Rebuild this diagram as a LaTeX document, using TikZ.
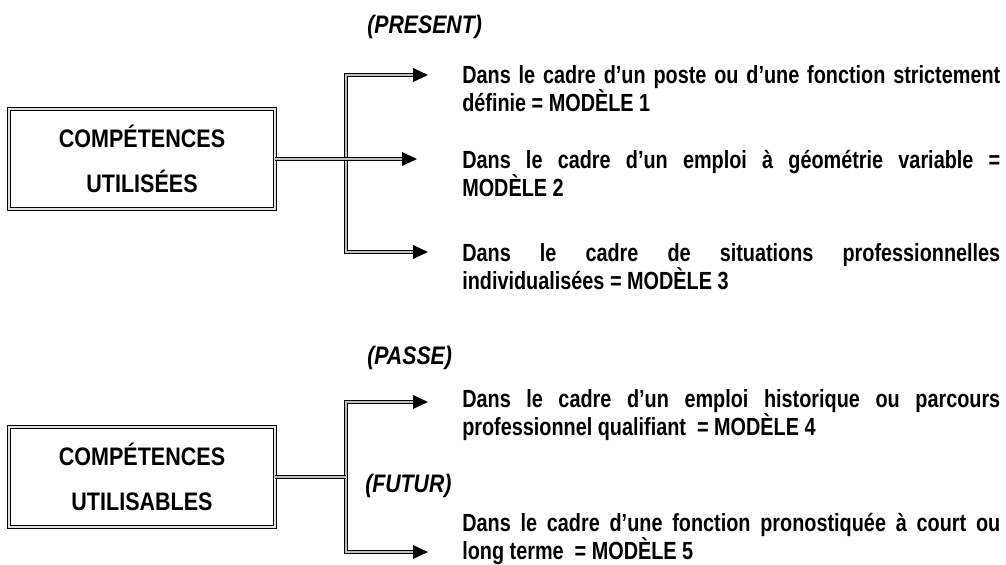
\documentclass[tikz,border=0pt]{standalone}
\usepackage{fontspec}
\setmainfont{Liberation Sans}[FakeStretch=0.8]
\newfontfamily\boxfont{Liberation Sans}[FakeStretch=0.85]
\newfontfamily\tensefont{Liberation Sans}[FakeStretch=0.84]
\usetikzlibrary{calc}

% head of a connector, drawn from the end of its shaft
\newcommand{\headat}[1]{\fill ($(#1)+(0,-7)$) -- ++(15,7) -- ++(-15,7) -- cycle;}

\tikzset{
  compbox/.style={draw, double=gray!25, double distance=1.4pt, line width=0.75pt,
    minimum width=199pt, minimum height=75pt, align=center,
    font=\boxfont\bfseries\fontsize{19}{33.75}\selectfont},
  link/.style={draw, double=gray!50, double distance=0.9pt, line width=0.75pt},
  casetext/.style={anchor=base west, inner sep=0pt, text width=403.5pt, align=justify,
    font=\bfseries\fontsize{18.6}{16.5}\selectfont},
  tense/.style={anchor=base west, inner sep=0pt,
    font=\tensefont\bfseries\itshape\fontsize{19}{18}\selectfont}
}

\begin{document}
\begin{tikzpicture}[x=0.75pt, y=-0.75pt]
  \useasboundingbox (0,0) rectangle (1006,564);

  % the two boxes
  \node[compbox] (used) at (142,159) {COMPÉTENCES\\UTILISÉES};
  \node[compbox] (usable) at (142,477) {COMPÉTENCES\\UTILISABLES};

  % tenses
  \node[tense] (present) at (367,33) {(PRESENT)};
  \node[tense] (past) at (367,364) {(PASSE)};
  \node[tense] (future) at (365,492) {(FUTUR)};

  % models
  \node[casetext] (m1) at (462,83) {Dans le cadre d’un poste ou d’une fonction strictement\linebreak définie = MODÈLE 1};
  \node[casetext] (m2) at (462,168) {Dans le cadre d’un emploi à géométrie variable =\linebreak MODÈLE 2};
  \node[casetext] (m3) at (462,261) {Dans le cadre de situations professionnelles\linebreak individualisées = MODÈLE 3};
  \node[casetext] (m4) at (462,407) {Dans le cadre d’un emploi historique ou parcours\linebreak professionnel qualifiant~ = MODÈLE 4};
  \node[casetext] (m5) at (462,531) {Dans le cadre d’une fonction pronostiquée à court ou\linebreak long terme~ = MODÈLE 5};

  % shaft ends and corners
  \coordinate (e1) at (413,75);
  \coordinate (e2) at (402,159);
  \coordinate (e3) at (413,252);
  \coordinate (j1) at (346,252);
  \coordinate (e4) at (413,402);
  \coordinate (e5) at (413,552);
  \coordinate (j2) at (346,552);

  % connectors
  \draw[link] (e1) -| (j1) -- (e3);
  \draw[link] (used.east) -- (e2);
  \draw[link] (e4) -| (j2) -- (e5);
  \draw[link] (usable.east) -- (usable.east -| j2);
  \foreach \e in {e1,e2,e3,e4,e5}
    {\headat{\e}}
\end{tikzpicture}
\end{document}
